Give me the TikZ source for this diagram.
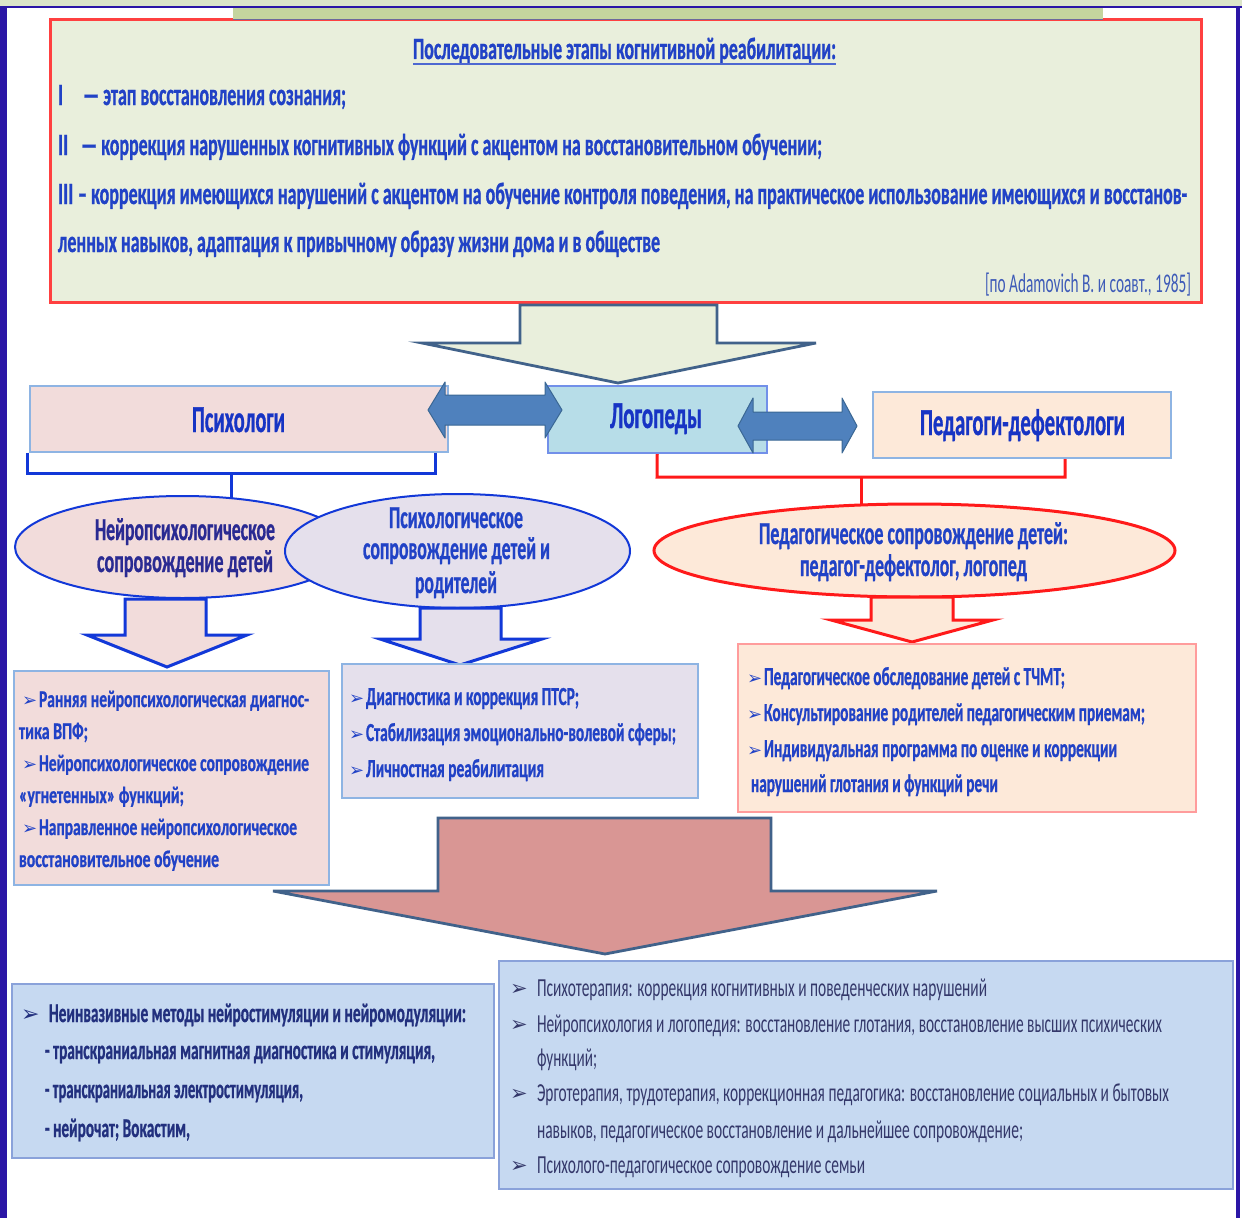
\documentclass[tikz,border=0pt]{standalone}
\usepackage{fontspec}
\usepackage{graphicx}
\usetikzlibrary{shapes.geometric}
\setmainfont{Carlito}
\newfontfamily\cfn[FakeStretch=0.62,BoldFeatures={FakeBold=0.8}]{Carlito}
\newfontfamily\djv{DejaVu Sans}
\definecolor{tblue}{HTML}{2142C6}
\definecolor{hblue}{HTML}{1734C4}
\definecolor{navy}{HTML}{2A2A92}
\definecolor{b4c}{HTML}{22307E}
\definecolor{b5c}{HTML}{34386A}
\definecolor{citec}{HTML}{3E5BB8}
\definecolor{gfill}{HTML}{E9EFDC}
\definecolor{pinkf}{HTML}{F2DCDB}
\definecolor{lavf}{HTML}{E5E0EC}
\definecolor{peachf}{HTML}{FDE9D9}
\definecolor{cyanf}{HTML}{B7DDE8}
\definecolor{bluef}{HTML}{C6D9F1}
\definecolor{rosef}{HTML}{D99694}
\definecolor{arrowb}{HTML}{4F81BD}
\definecolor{arrowbd}{HTML}{3A6794}
\definecolor{slate}{HTML}{41628A}
\definecolor{lblue}{HTML}{8EB4E3}
\definecolor{brblue}{HTML}{1238D8}
\definecolor{brred}{HTML}{FF1A1A}
\definecolor{barc}{HTML}{2B16A6}
\definecolor{topg}{HTML}{DCE5C9}
\definecolor{stripg}{HTML}{C4D59E}
\definecolor{stripl}{HTML}{6C6A9C}
\definecolor{lred}{HTML}{FF9C9C}
\definecolor{bbd}{HTML}{8AA2DA}
\pgfdeclarelayer{back}
\pgfsetlayers{back,main}
\newcommand\LN[6]{\node[tx,#5] (#1) at (#2,#3) {\resizebox{#4pt}{\height}{#6}};}
\newcommand\BU[4]{\node[tx,#4] (#1) at (#2,#3) {\djv ➢};}
\begin{document}
\begin{tikzpicture}[x=1pt,y=-1pt,
  tx/.style={anchor=base west,inner sep=0pt,outer sep=0pt},
  tb/.style={font=\cfn\bfseries\fontsize{31}{31}\selectfont,text=tblue},
  ct/.style={font=\cfn\fontsize{27}{27}\selectfont,text=citec},
  hd/.style={font=\cfn\bfseries\fontsize{38}{38}\selectfont,text=hblue},
  el/.style={font=\cfn\bfseries\fontsize{32}{32}\selectfont,text=tblue},
  elnavy/.style={font=\cfn\bfseries\fontsize{32}{32}\selectfont,text=navy},
  bxa/.style={font=\cfn\bfseries\fontsize{24}{24}\selectfont,text=tblue},
  bxb/.style={font=\cfn\bfseries\fontsize{26}{26}\selectfont,text=tblue},
  bxc/.style={font=\cfn\bfseries\fontsize{27}{27}\selectfont,text=b4c},
  bxd/.style={font=\cfn\fontsize{26}{26}\selectfont,text=b5c},
  bula/.style={font=\fontsize{18}{18}\selectfont,text=tblue},
  bulb/.style={font=\fontsize{22}{22}\selectfont,text=b4c},
  bulc/.style={font=\fontsize{21}{21}\selectfont,text=b5c},
  box/.style={rectangle,anchor=north west,inner sep=0pt},
  ell/.style={ellipse,inner sep=0pt},
  bbr/.style={draw=brblue,line width=3pt},
  rbr/.style={draw=brred,line width=3pt},
  bigarrow/.style={draw=slate,line width=2.8pt,line join=miter},
  darrow/.style={fill=arrowb,draw=arrowbd,line width=1pt,line join=round}]
\useasboundingbox (0,0) rectangle (1242,1218);
\begin{pgfonlayer}{back}
\fill[white] (0,0) rectangle (1242,1218);
\end{pgfonlayer}
% frame
\fill[topg] (0,0) rectangle (1242,6);
\fill[barc] (0,5.5) rectangle (1242,8);
\fill[barc] (0,5.5) rectangle (7,1218);
\fill[barc] (1236,5.5) rectangle (1239.5,1218);
% top box
\node[box,fill=gfill,draw=red!75,line width=2.5pt,minimum width=1151,minimum height=283] (top) at (49,18) {};
\fill[stripg] (233,8) rectangle (1103,19);
\draw[stripl,line width=1.5pt] (233,19.5) -- (1103,19.5);
\LN{title}{413}{59}{423}{tb}{Последовательные этапы когнитивной реабилитации:}
\draw[tblue!80,line width=2.5pt] ([yshift=-5pt]title.base west) -- ([yshift=-5pt]title.base east);
\node[tx,tb] (r1) at (58,105) {I};
\LN{l1}{83}{105}{263}{tb}{— этап восстановления сознания;}
\node[tx,tb] (r2) at (58,155) {II};
\LN{l2}{81}{155}{741}{tb}{— коррекция нарушенных когнитивных функций с акцентом на восстановительном обучении;}
\node[tx,tb] (r3) at (58,204) {III};
\LN{l3}{78}{204}{1109}{tb}{– коррекция имеющихся нарушений с акцентом на обучение контроля поведения, на практическое использование имеющихся и восстанов-}
\LN{l4}{58}{252}{602}{tb}{ленных навыков, адаптация к привычному образу жизни дома и в обществе}
\LN{cite}{985}{292}{206}{ct}{[по Adamovich B. и соавт., 1985]}
% big arrow 1
\draw[bigarrow,fill=gfill] (520,305) -- (717,305) -- (717,343) -- (816,343) -- (618,383) -- (422,343) -- (520,343) -- cycle;
% row of specialists
\node[box,fill=pinkf,draw=lblue,line width=1.5pt,minimum width=418,minimum height=66] (psy) at (29,385) {};
\node[box,fill=cyanf,draw=lblue!80!blue,line width=1.5pt,minimum width=219,minimum height=67] (logo) at (547,385) {};
\node[box,fill=peachf,draw=lblue,line width=1.5pt,minimum width=298,minimum height=66] (ped) at (872,391) {};
\LN{tpsy}{192}{432}{93}{hd}{Психологи}
\LN{tlogo}{610}{428}{92}{hd}{Логопеды}
\LN{tped}{920}{435}{205}{hd}{Педагоги-дефектологи}
\draw[darrow] (428,410) -- (445,382) -- (445,395) -- (545,395) -- (545,382) -- (562,410) -- (545,438) -- (545,425) -- (445,425) -- (445,438) -- cycle;
\draw[darrow] (738,426) -- (753,398) -- (753,412) -- (842,412) -- (842,398) -- (857,426) -- (842,453) -- (842,440) -- (753,440) -- (753,453) -- cycle;
% ellipses
\node[ell,fill=pinkf,draw=brblue,line width=2pt,minimum width=335,minimum height=102] (e1) at (182.5,547) {};
\node[ell,fill=lavf,draw=brblue,line width=2pt,minimum width=345,minimum height=114] (e2) at (457.5,551) {};
\node[ell,fill=peachf,draw=brred,line width=3pt,minimum width=521,minimum height=93] (e3) at (914.5,550.5) {};
\LN{e1a}{95}{540}{180}{elnavy}{Нейропсихологическое}
\LN{e1b}{97}{572}{176}{elnavy}{сопровождение детей}
\LN{e2a}{389}{528}{134}{el}{Психологическое}
\LN{e2b}{363}{559}{187}{el}{сопровождение детей и}
\LN{e2c}{415}{593}{82}{el}{родителей}
\LN{e3a}{759}{544}{309}{el}{Педагогическое сопровождение детей:}
\LN{e3b}{800}{576}{227}{el}{педагог-дефектолог, логопед}
% brackets (connectors)
\coordinate (bbL) at (27,473);
\coordinate (bbR) at (435,473);
\coordinate (bbM) at (231,473);
\coordinate (rbL) at (657,477);
\coordinate (rbR) at (1065,477);
\coordinate (rbM) at (861,477);
\begin{pgfonlayer}{back}
\draw[bbr] (bbL |- psy.south) -- (bbL) -- (bbR) -- (bbR |- psy.south);
\draw[bbr] (bbM) -- (bbM |- e1.center);
\draw[rbr] (logo.south) -- (rbL) -- (rbR) -- (rbR |- ped.south);
\draw[rbr] (rbM) -- (rbM |- e3.center);
\end{pgfonlayer}
% small arrows
\draw[draw=brblue,line width=3pt,fill=pinkf] (125,599) -- (206,599) -- (206,635) -- (247,635) -- (167,667) -- (87,635) -- (125,635) -- cycle;
\draw[draw=brblue,line width=3pt,fill=lavf] (420,608) -- (501,608) -- (501,639) -- (542,639) -- (460,665) -- (380,639) -- (420,639) -- cycle;
\draw[draw=brred,line width=3pt,fill=peachf] (871,597) -- (953,597) -- (953,620) -- (993,620) -- (912,642) -- (831,620) -- (871,620) -- cycle;
% content boxes
\node[box,fill=pinkf,draw=lblue,line width=1.5pt,minimum width=315,minimum height=214] (b1) at (13,670) {};
\node[box,fill=lavf,draw=lblue,line width=1.5pt,minimum width=356,minimum height=134] (b2) at (341,663) {};
\node[box,fill=peachf,draw=lred,line width=2pt,minimum width=458,minimum height=168] (b3) at (737,643) {};
\BU{b1u1}{22}{706}{bula}
\LN{b1l1}{39}{707}{270}{bxa}{Ранняя нейропсихологическая диагнос-}
\LN{b1l2}{19}{739}{69}{bxa}{тика ВПФ;}
\BU{b1u3}{22}{770}{bula}
\LN{b1l3}{39}{771}{270}{bxa}{Нейропсихологическое сопровождение}
\LN{b1l4}{19}{803}{165}{bxa}{«угнетенных» функций;}
\BU{b1u5}{22}{834}{bula}
\LN{b1l5}{39}{835}{258}{bxa}{Направленное нейропсихологическое}
\LN{b1l6}{19}{867}{200}{bxa}{восстановительное обучение}
\BU{b2u1}{349}{704}{bula}
\LN{b2l1}{366}{705}{213}{bxb}{Диагностика и коррекция ПТСР;}
\BU{b2u2}{349}{740}{bula}
\LN{b2l2}{366}{741}{310}{bxb}{Стабилизация эмоционально-волевой сферы;}
\BU{b2u3}{349}{776}{bula}
\LN{b2l3}{366}{777}{178}{bxb}{Личностная реабилитация}
\BU{b3u1}{747}{684}{bula}
\LN{b3l1}{764}{685}{301}{bxb}{Педагогическое обследование детей с ТЧМТ;}
\BU{b3u2}{747}{720}{bula}
\LN{b3l2}{764}{721}{381}{bxb}{Консультирование родителей педагогическим приемам;}
\BU{b3u3}{747}{756}{bula}
\LN{b3l3}{764}{757}{353}{bxb}{Индивидуальная программа по оценке и коррекции}
\LN{b3l4}{751}{792}{247}{bxb}{нарушений глотания и функций речи}
% big arrow 2
\draw[bigarrow,fill=rosef] (438,818) -- (771,818) -- (771,891) -- (937,891) -- (605,954) -- (273,891) -- (438,891) -- cycle;
% bottom boxes
\node[box,fill=bluef,draw=bbd,line width=2pt,minimum width=482,minimum height=174] (b4) at (11,983) {};
\node[box,fill=bluef,draw=bbd,line width=2pt,minimum width=734,minimum height=228] (b5) at (498,960) {};
\BU{b4u1}{21}{1021}{bulb}
\LN{b4l1}{49}{1022}{417}{bxc}{Неинвазивные методы нейростимуляции и нейромодуляции:}
\LN{b4l2}{45}{1059}{390}{bxc}{- транскраниальная магнитная диагностика и стимуляция,}
\LN{b4l3}{45}{1098}{258}{bxc}{- транскраниальная электростимуляция,}
\LN{b4l4}{45}{1137}{145}{bxc}{- нейрочат; Вокастим,}
\BU{b5u1}{510}{995}{bulc}
\LN{b5l1}{537}{996}{450}{bxd}{Психотерапия: коррекция когнитивных и поведенческих нарушений}
\BU{b5u2}{510}{1031}{bulc}
\LN{b5l2}{537}{1032}{625}{bxd}{Нейропсихология и логопедия: восстановление глотания, восстановление высших психических}
\LN{b5l3}{537}{1066}{60}{bxd}{функций;}
\BU{b5u4}{510}{1100}{bulc}
\LN{b5l4}{537}{1101}{632}{bxd}{Эрготерапия, трудотерапия, коррекционная педагогика: восстановление социальных и бытовых}
\LN{b5l5}{537}{1138}{486}{bxd}{навыков, педагогическое восстановление и дальнейшее сопровождение;}
\BU{b5u6}{510}{1172}{bulc}
\LN{b5l6}{537}{1173}{328}{bxd}{Психолого-педагогическое сопровождение семьи}
\end{tikzpicture}
\end{document}
